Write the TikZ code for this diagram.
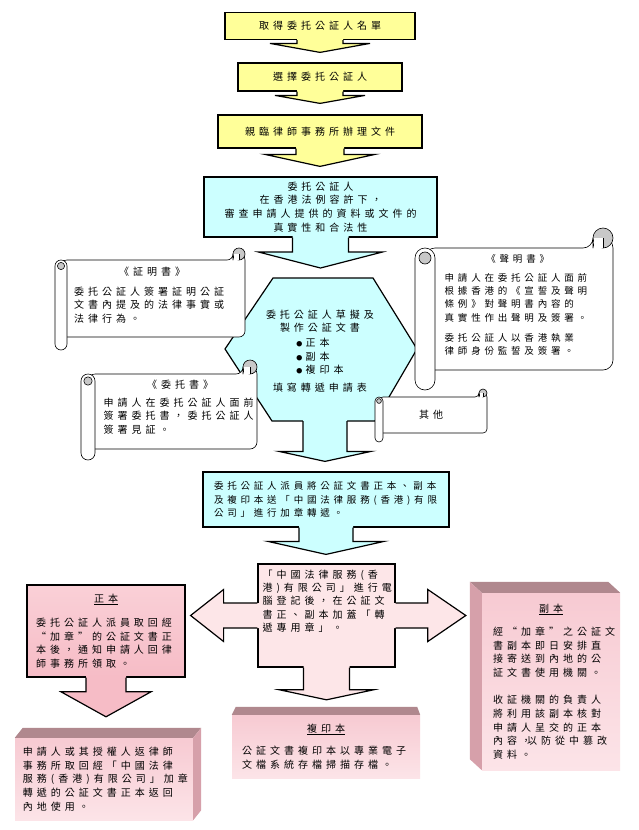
\documentclass[tikz,border=0pt]{standalone}
\usepackage{fontspec}
\usepackage{tikz}
\usetikzlibrary{calc}
\usetikzlibrary{positioning}
\newfontfamily\cjk[LetterSpace=40]{Noto Sans CJK TC}
\definecolor{lemon}{RGB}{255, 255, 153}
\definecolor{aqua}{RGB}{204, 255, 255}
\definecolor{blush}{RGB}{253, 230, 232}
\definecolor{rosetop}{RGB}{250, 208, 215}
\definecolor{roselow}{RGB}{246, 188, 198}
\definecolor{cubefront}{RGB}{247, 202, 210}
\definecolor{cubefade}{RGB}{252, 228, 232}
\definecolor{cubelidc}{RGB}{176, 136, 142}
\definecolor{cubeside}{RGB}{214, 160, 170}
\definecolor{curl}{RGB}{200, 200, 200}

\tikzset{
  outline/.style  = {line width=1.2pt, line join=miter},
  flowbox/.style  = {draw, outline, inner sep=0pt, align=center, font=\cjk\fontsize{10}{13.7}\selectfont},
  lemonbox/.style = {flowbox, fill=lemon},
  aquabox/.style  = {flowbox, fill=aqua},
  blushbox/.style = {flowbox, fill=blush},
  rosebox/.style  = {flowbox, top color=rosetop, bottom color=roselow},
  cubebox/.style  = {inner sep=0pt, top color=cubefront, bottom color=cubefade, align=left, font=\cjk\fontsize{10}{13.7}\selectfont},
  notetext/.style = {inner sep=0pt, align=left, font=\cjk\fontsize{10}{13.4}\selectfont},
  paper/.style    = {fill=white, draw=black, line width=0.6pt, line join=round},
}

% centred heading line inside a left aligned note
\newcommand{\notehead}[1]{\makebox[\hsize]{#1}}
\newcommand{\dotmark}{{\fontsize{6}{6}\selectfont ●}}

% fat block arrow: colour, start, end, stem half, head half, head length, gap
\newcommand{\fatarrow}[7]{%
  \path (#2) coordinate (fa-s) (#3) coordinate (fa-e);
  \path ($(fa-e)!#7pt!(fa-s)$) coordinate (fa-t);
  \path ($(fa-t)!#6pt!(fa-s)$) coordinate (fa-h);
  \path ($(fa-s)!#4pt!90:(fa-t)$)  coordinate (fa-s1)
        ($(fa-s)!#4pt!-90:(fa-t)$) coordinate (fa-s2)
        ($(fa-h)!#4pt!90:(fa-t)$)  coordinate (fa-h1)
        ($(fa-h)!#4pt!-90:(fa-t)$) coordinate (fa-h2)
        ($(fa-h)!#5pt!90:(fa-t)$)  coordinate (fa-w1)
        ($(fa-h)!#5pt!-90:(fa-t)$) coordinate (fa-w2)
        ($(fa-s1)!-1.5pt!(fa-h1)$) coordinate (fa-b1)
        ($(fa-s2)!-1.5pt!(fa-h2)$) coordinate (fa-b2);
  \fill[#1] (fa-b1) -- (fa-h1) -- (fa-w1) -- (fa-t) -- (fa-w2) -- (fa-h2) -- (fa-b2) -- cycle;
  \draw[outline] (fa-s1) -- (fa-h1) -- (fa-w1) -- (fa-t) -- (fa-w2) -- (fa-h2) -- (fa-s2);
}

% scroll: left, top, right, bottom, roll radius, roll tail
\newcommand{\scrollpaper}[6]{%
  \filldraw[paper, rounded corners=#5pt] ({#1+#5},#2) -- ({#3-2*#5},#2) -- ({#3-2*#5},{#2-#5}) -- (#3,{#2-#5}) -- (#3,#4) -- ({#1+#5},#4) -- cycle;
  \filldraw[paper, fill=curl] ({#3-#5},{#2-#5}) circle[radius=#5pt];
  \fill[white] ({#3-2*#5+0.7},{#2-0.4}) rectangle ({#3-#5},{#2-#5});
  \draw[paper] ({#3-#5},{#2-#5}) -- ({#3-#5},#2);
  \filldraw[paper, rounded corners=#5pt] (#1,#2) rectangle ({#1+2*#5},{#4+#6});
  \filldraw[paper, fill=curl] ({#1+#5},{#2+#5}) circle[radius=0.6*#5pt];
}

% top face of a box seen in depth: node, dx left, dx right, dy
\newcommand{\cubelid}[4]{%
  \fill[cubelidc] (#1.north west) -- (#1.north east) -- ($(#1.north east)+(#3,-#4)$) -- ($(#1.north west)+(#2,-#4)$) -- cycle;
}

\begin{document}
\begin{tikzpicture}[x=1pt, y=-1pt]
\useasboundingbox (0,0) rectangle (638,830);
\fill[white] (0,0) rectangle (638,830);

\node[lemonbox, minimum width=190pt, minimum height=27pt] (obtain) at (320.0, 26.0) {取得委托公証人名單};
\node[lemonbox, minimum width=164pt, minimum height=28pt] (choose) at (320.0, 77.0) {選擇委托公証人};
\node[lemonbox, minimum width=204pt, minimum height=33pt] (visit)  at (320.0,131.5) {親臨律師事務所辦理文件};
\node[aquabox,  minimum width=233pt, minimum height=60pt] (review) at (320.5,207.0)
     {委托公証人\\在香港法例容許下，\\審查申請人提供的資料或文件的\\真實性和合法性};

\filldraw[outline, fill=aqua] (273,278) -- (373,278) -- (417,349) -- (375,421) -- (272,421) -- (225,349) -- cycle;
\coordinate (hextop) at (321,278);
\coordinate (hexbot) at (325,421);
\node[notetext, text width=130pt, align=center] (draft) at (320,351)
     {委托公証人草擬及\\製作公証文書\\[4pt]\begin{tabular}{@{}l@{}}\dotmark\ 正本\\\dotmark\ 副本\\\dotmark\ 複印本\end{tabular}\\[4pt]填寫轉遞申請表};

\node[aquabox, text width=224pt, inner xsep=11pt, minimum height=55pt, align=left, font=\cjk\fontsize{9.5}{13.4}\selectfont] (deliver) at (326,499.5)
     {委托公証人派員將公証文書正本、副本\\及複印本送「中國法律服務(香港)有限\\公司」進行加章轉遞。};

\fatarrow{lemon}{obtain.south}{choose.north -| obtain.south}{23}{50}{9}{10}
\fatarrow{lemon}{choose.south}{visit.north -| choose.south}{23}{45}{8}{11}
\fatarrow{lemon}{visit.south}{review.north -| visit.south}{24}{55}{12}{10}
\fatarrow{aqua}{review.south}{hextop -| review.south}{28}{62}{16}{10}
\fatarrow{aqua}{hexbot}{deliver.north -| hexbot}{22}{46}{10}{10}

\scrollpaper{55}{260}{245}{337}{6}{13}
\node[notetext, text width=156pt, anchor=north west] (cert) at (74,267)
     {\notehead{《証明書》}\\[6.5pt]委托公証人簽署証明公証\\文書內提及的法律事實或\\法律行為。};
\scrollpaper{81}{374}{257}{449}{7}{11}
\node[notetext, text width=153pt, anchor=north west] (proxy) at (103.5,380)
     {\notehead{《委托書》}\\[4.5pt]申請人在委托公証人面前\\簽署委托書，委托公証人\\簽署見証。};
\scrollpaper{415}{248}{613}{370}{10}{20}
\node[notetext, text width=146pt, anchor=north west, font=\cjk\fontsize{9.5}{13.4}\selectfont] (decl) at (444.5,254)
     {\notehead{《聲明書》}\\[5.5pt]申請人在委托公証人面前\\根據香港的《宣誓及聲明\\條例》對聲明書內容的\\真實性作出聲明及簽署。\\[6.6pt]委托公証人以香港執業\\律師身份監誓及簽署。};
\scrollpaper{375}{397}{487}{433}{4}{9}
\node[notetext] (other) at (431,415) {其他};

\node[blushbox, minimum width=137pt, minimum height=103pt] (stamp) at (326.5,615.5) {};
\node[notetext, text width=128pt, below right=6pt and 5pt of stamp.north west] (stampnote)
     {「中國法律服務(香\\港)有限公司」進行電\\腦登記後，在公証文\\書正、副本加蓋「轉\\遞專用章」。};
\node[rosebox, text width=140pt, inner xsep=9pt, minimum height=92pt, align=left] (original) at (106,631)
     {\notehead{\underline{正本}}\\[10.5pt]委托公証人派員取回經\\“加章”的公証文書正\\本後，通知申請人回律\\師事務所領取。};

\node[cubebox, text width=162pt, inner xsep=8pt, minimum height=82pt] (return) at (104,779)
     {申請人或其授權人返律師\\事務所取回經「中國法律\\服務(香港)有限公司」加章\\轉遞的公証文書正本返回\\內地使用。};
\cubelid{return}{8}{8}{10}
\fill[cubeside] (return.north east) -- ++(8,-10) -- ($(return.south east)+(8,-10)$) -- (return.south east) -- cycle;
\node[cubebox, text width=168pt, inner xsep=10pt, minimum height=63pt] (copy) at (326,746.5)
     {\notehead{\underline{複印本}}\\[8.5pt]公証文書複印本以專業電子\\文檔系統存檔掃描存檔。};
\cubelid{copy}{4}{-3}{8}
\node[cubebox, text width=116pt, inner xsep=11pt, minimum height=177pt] (dup) at (551,681.5)
     {\notehead{\underline{副本}}\\[9.5pt]經“加章”之公証文\\書副本即日安排直\\接寄送到內地的公\\証文書使用機關。\\[13.5pt]收証機關的負責人\\將利用該副本核對\\申請人呈交的正本\\內容，\kern-4pt 以防從中篡改\\資料。};
\cubelid{dup}{-12}{-12}{11}
\fill[cubeside] (dup.north west) -- ++(-12,-11) -- ($(dup.south west)+(-12,-11)$) -- (dup.south west) -- cycle;

\fatarrow{aqua}{deliver.south}{stamp.north -| deliver.south}{27}{58}{13}{9}
\fatarrow{blush}{stamp.west}{original.east |- stamp.west}{12.5}{26}{33}{5}
\fatarrow{blush}{stamp.east}{dup.west |- stamp.east}{12.5}{26}{38}{16}
\fatarrow{blush}{stamp.south}{copy.north -| stamp.south}{23}{47}{10}{15}
\fatarrow{roselow}{original.south}{return.north -| original.south}{20}{45}{25}{21}
\end{tikzpicture}
\end{document}
